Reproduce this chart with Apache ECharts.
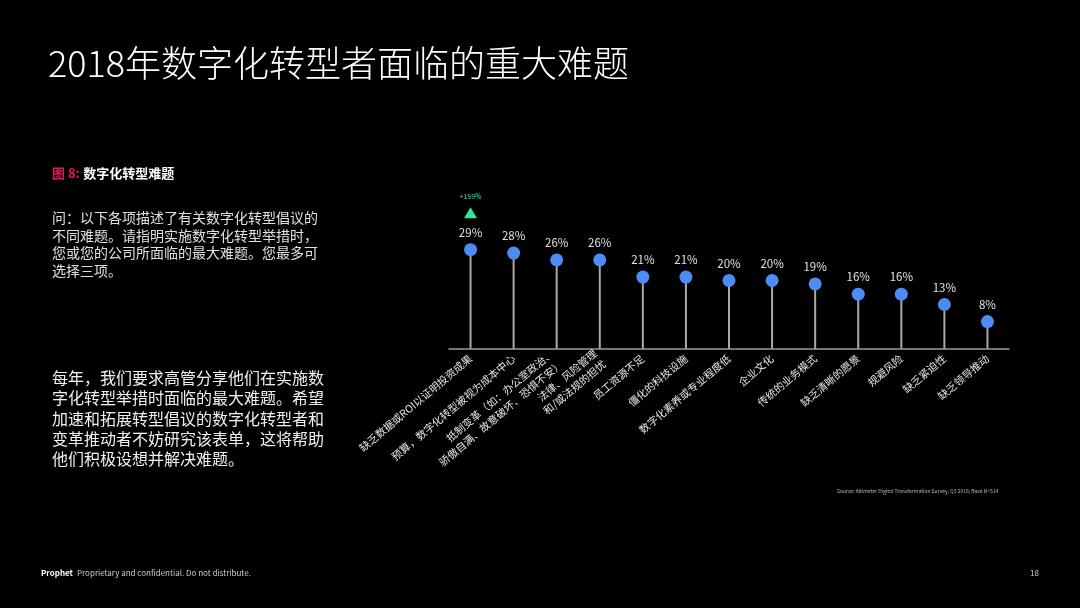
<!DOCTYPE html>
<html>
<head>
<meta charset="utf-8">
<script src="https://cdn.jsdelivr.net/npm/echarts@6/dist/echarts.min.js"></script>
<style>
  html, body { margin: 0; padding: 0; background: #000; }
  #main { width: 1080px; height: 608px; }
</style>
</head>
<body>
<div id="main"></div>
<script>
// 难题类别
const categories = [
  '缺乏数据或ROI以证明投资成果',
  '预算，数字化转型被视为成本中心',
  '抵制变革（如：办公室政治、\n骄傲自满、故意破坏、恐惧不安）',
  '法律、风险管理\n和/或法规的担忧',
  '员工资源不足',
  '僵化的科技设施',
  '数字化素养或专业程度低',
  '企业文化',
  '传统的业务模式',
  '缺乏清晰的愿景',
  '规避风险',
  '缺乏紧迫性',
  '缺乏领导推动'
];
// 百分比
const values = [29, 28, 26, 26, 21, 21, 20, 20, 19, 16, 16, 13, 8];
// 增长标记
const growthIndex = 0;
const growthText = '+159%';

const questionLines = [
  '问：以下各项描述了有关数字化转型倡议的',
  '不同难题。请指明实施数字化转型举措时，',
  '您或您的公司所面临的最大难题。您最多可',
  '选择三项。'
];
const bodyLines = [
  '每年，我们要求高管分享他们在实施数',
  '字化转型举措时面临的最大难题。希望',
  '加速和拓展转型倡议的数字化转型者和',
  '变革推动者不妨研究该表单，这将帮助',
  '他们积极设想并解决难题。'
];

const FONT = '"Noto Sans CJK SC", "Noto Sans", sans-serif';
const chart = echarts.init(document.getElementById('main'));

function textEl(x, y, text, size, color, weight, lineHeight) {
  return {
    type: 'text', left: x, top: y,
    style: {
      text: text, fill: color, fontSize: size, fontFamily: FONT,
      fontWeight: weight || 'normal', lineHeight: lineHeight || size * 1.3
    }
  };
}

let option = {
  backgroundColor: '#000',
  textStyle: { fontFamily: FONT },
  grid: { left: 449, right: 71, top: 212, bottom: 259 },
  xAxis: {
    type: 'category',
    data: categories,
    axisLine: { lineStyle: { color: '#9a9a9a', width: 1.5 } },
    axisTick: { show: false },
    axisLabel: {
      interval: 0, rotate: 40, color: '#e6e6e6', fontSize: 10.5,
      fontFamily: FONT, margin: 8, lineHeight: 14
    }
  },
  yAxis: { type: 'value', min: 0, max: 40, show: false },
  series: [
    {
      type: 'bar',
      data: values,
      barWidth: 2,
      itemStyle: { color: '#a8a8a8' },
      silent: true
    },
    {
      type: 'scatter',
      data: values,
      symbolSize: 13,
      itemStyle: { color: '#4d8bf5', opacity: 1 },
      label: {
        show: true, position: 'top', distance: 5,
        formatter: '{c}%', color: '#e0e0e0', fontSize: 11.5, fontFamily: FONT
      },
      markPoint: {
        data: [{
          coord: [growthIndex, values[growthIndex]],
          symbol: 'triangle',
          symbolSize: [13, 11],
          symbolOffset: [0, -37],
          itemStyle: { color: '#2fe6a0' },
          label: {
            show: true, position: 'top', distance: 7,
            formatter: growthText, color: '#2fe6a0', fontSize: 7
          }
        }]
      }
    }
  ],
  graphic: [
    textEl(48, 40, '2018年数字化转型者面临的重大难题', 36, '#ffffff', 300),
    {
      type: 'text', left: 52, top: 167,
      style: {
        text: '{r|图 8:} {w|数字化转型难题}',
        rich: {
          r: { fill: '#e0195b', fontSize: 13, fontWeight: 'bold', fontFamily: FONT },
          w: { fill: '#ffffff', fontSize: 13, fontWeight: 'bold', fontFamily: FONT }
        }
      }
    },
    textEl(52, 209, questionLines.join('\n'), 14, '#e0e0e0', 'normal', 17.5),
    textEl(52, 368, bodyLines.join('\n'), 16, '#f0f0f0', 'normal', 20.2),
    textEl(837, 488, 'Source: Altimeter Digital Transformation Survey, Q3 2018; Base N=514', 5, '#bbbbbb'),
    textEl(41, 568, 'Prophet', 8, '#ffffff', 'bold'),
    textEl(77, 568, 'Proprietary and confidential. Do not distribute.', 8, '#cccccc'),
    textEl(1030, 568, '18', 8, '#cccccc')
  ]
};
chart.setOption(option);
</script>
</body>
</html>
